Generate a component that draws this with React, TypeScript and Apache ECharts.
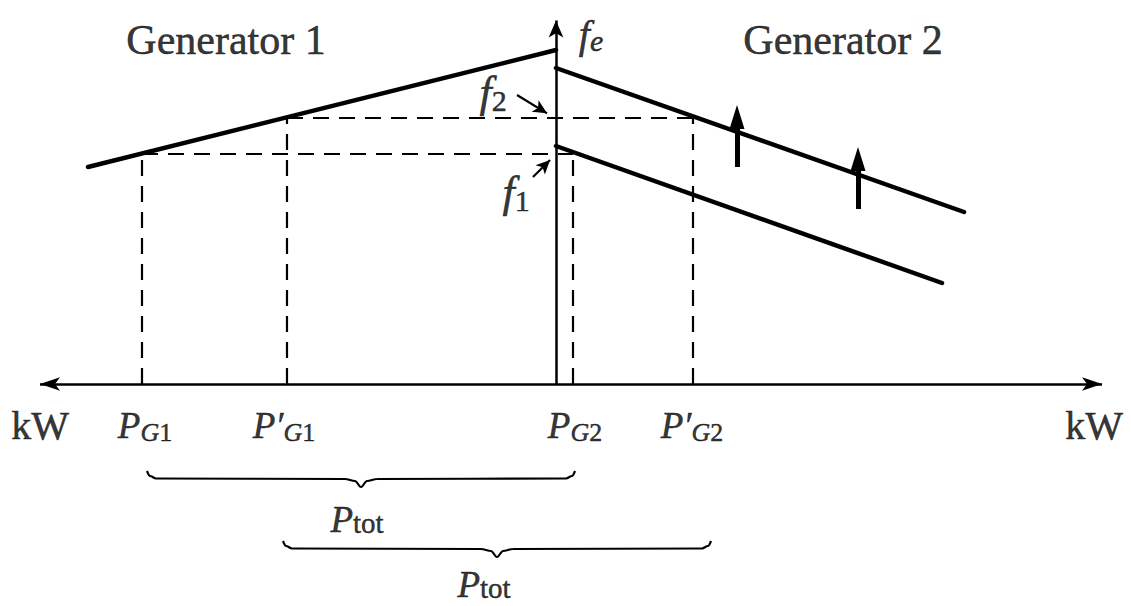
import React, { useEffect, useRef } from "react";
import * as echarts from "echarts";

// Coordinate frame: x = power (Generator 1 to the left of 0, Generator 2 to the right), y = frequency
const X_MIN = -556;
const X_MAX = 575;
const Y_MIN = -222;
const Y_MAX = 384;

// Frequency-power characteristics
const gen1Curve = [
  [-468, 217],
  [0, 334],
];
const gen2CurveBefore = [
  [0, 238],
  [386, 101],
];
const gen2CurveAfter = [
  [0, 316],
  [408, 172],
];

// Operating frequencies and powers
const f1 = 230;
const f2 = 266;
const pG1 = -414;
const pG1New = -269;
const pG2 = 17;
const pG2New = 137;

// Axes extents
const axisXLeftTip = -526;
const axisXRightTip = 556;
const axisYTip = 372;

// Upward shift arrows: [x, base, tip]
const shiftArrows = [
  [181, 217, 279],
  [302, 175, 237],
];

// Pointer arrows for f2 / f1 labels: [fromX, fromY, tipX, tipY]
const f2Pointer = [-39, 289, -3, 267];
const f1Pointer = [-23, 207, -1, 229];

// Braces under the power axis
const brace1 = [
  [-409, -87], [-406, -92], [-400, -94.5], [-211, -95], [-201, -97], [-195, -103],
  [-189, -97], [-179, -95], [10, -94.5], [16, -92], [19, -87],
];
const brace2 = [
  [-273, -157], [-270, -162], [-264, -164.5], [-75, -165], [-65, -167], [-59, -173],
  [-53, -167], [-43, -165], [146, -164.5], [152, -162], [155, -157],
];

// Text labels
const labelItems = [
  { pos: [-330, 344], text: "{g|Generator 1}" },
  { pos: [287, 344], text: "{g|Generator 2}" },
  { pos: [35, 350], text: "{fe|f}{fes|e}" },
  { pos: [-63, 292], text: "{f|f}{fn|2}" },
  { pos: [-40, 192], text: "{f|f}{fn|1}" },
  { pos: [-516, -41], text: "{k|kW}" },
  { pos: [538, -41], text: "{k|kW}" },
  { pos: [-411, -41], text: "{p|P}{sg|G}{sn|1}" },
  { pos: [-272, -41], text: "{p|P\u2032}{sg|G}{sn|1}" },
  { pos: [19, -41], text: "{p|P}{sg|G}{sn|2}" },
  { pos: [136, -41], text: "{p|P\u2032}{sg|G}{sn|2}" },
  { pos: [-199, -135], text: "{pt|P}{t|tot}" },
  { pos: [-72, -200], text: "{pt|P}{t|tot}" },
];

const SERIF = "'Liberation Serif', 'Times New Roman', serif";

function headCenter(fx: number, fy: number, tx: number, ty: number, len: number) {
  const dx = tx - fx;
  const dy = ty - fy;
  const d = Math.sqrt(dx * dx + dy * dy) || 1;
  return [tx - (dx / d) * (len / 2), ty - (dy / d) * (len / 2)];
}

function buildOption() {
  const solid = (data: number[][]) => ({
    type: "line",
    data,
    symbol: "none",
    silent: true,
    lineStyle: { color: "#000", width: 4.5, cap: "round" },
  });
  const dashedSegs = [
    [[pG1, 0], [pG1, f1]],
    [[pG1New, 0], [pG1New, f2]],
    [[pG2, 0], [pG2, f1]],
    [[pG2New, 0], [pG2New, f2]],
    [[pG1, f1], [pG2, f1]],
    [[pG1New, f2], [pG2New, f2]],
  ];
  const dashed = dashedSegs.map((d) => ({
    type: "line",
    data: d,
    symbol: "none",
    silent: true,
    lineStyle: { color: "#000", width: 2.2, type: [16, 10] },
  }));

  const braces = [brace1, brace2].map((d) => ({
    type: "line",
    data: d,
    symbol: "none",
    smooth: 0.35,
    smoothMonotone: "x",
    silent: true,
    lineStyle: { color: "#000", width: 2.2 },
  }));

  const axHead = 20;
  const yHead = 17;
  const axes = {
    type: "scatter",
    data: [],
    silent: true,
    markLine: {
      silent: true,
      animation: false,
      label: { show: false },
      emphasis: { disabled: true },
      lineStyle: { color: "#000", width: 2.5, type: "solid" },
      data: [
        [
          { coord: [axisXLeftTip + axHead / 2, 0], symbol: "arrow", symbolSize: [10, axHead] },
          { coord: [axisXRightTip - axHead / 2, 0], symbol: "arrow", symbolSize: [10, axHead] },
        ],
        [
          { coord: [0, 0], symbol: "none" },
          { coord: [0, axisYTip - yHead / 2], symbol: "arrow", symbolSize: [11, yHead] },
        ],
      ],
    },
  };

  const upHead = 24;
  const upArrows = {
    type: "scatter",
    data: [],
    silent: true,
    markLine: {
      silent: true,
      animation: false,
      label: { show: false },
      emphasis: { disabled: true },
      lineStyle: { color: "#000", width: 5, type: "solid" },
      data: shiftArrows.map(([x, b, t]) => [
        { coord: [x, b], symbol: "none" },
        { coord: [x, t - upHead / 2], symbol: "triangle", symbolSize: [15, upHead] },
      ]),
    },
  };

  const ptrHead = 14;
  const c2 = headCenter(f2Pointer[0], f2Pointer[1], f2Pointer[2], f2Pointer[3], ptrHead);
  const c1 = headCenter(f1Pointer[0], f1Pointer[1], f1Pointer[2], f1Pointer[3], ptrHead);
  const pointerCurved = {
    type: "scatter",
    data: [],
    silent: true,
    markLine: {
      silent: true,
      animation: false,
      label: { show: false },
      emphasis: { disabled: true },
      lineStyle: { color: "#000", width: 2.2, type: "solid", curveness: 0.15 },
      data: [
        [
          { coord: [f2Pointer[0], f2Pointer[1]], symbol: "none" },
          { coord: c2, symbol: "arrow", symbolSize: [10, ptrHead] },
        ],
      ],
    },
  };
  const pointerStraight = {
    type: "scatter",
    data: [],
    silent: true,
    markLine: {
      silent: true,
      animation: false,
      label: { show: false },
      emphasis: { disabled: true },
      lineStyle: { color: "#000", width: 2.2, type: "solid" },
      data: [
        [
          { coord: [f1Pointer[0], f1Pointer[1]], symbol: "none" },
          { coord: c1, symbol: "arrow", symbolSize: [10, ptrHead] },
        ],
      ],
    },
  };

  const base = { fontFamily: SERIF, color: "#000", textBorderColor: "#000", textBorderWidth: 0.5 };
  const rich: any = {
    g: { ...base, fontSize: 42, lineHeight: 46 },
    k: { ...base, fontSize: 40, lineHeight: 44 },
    fe: { ...base, fontStyle: "italic", fontSize: 40, lineHeight: 42 },
    fes: { ...base, fontStyle: "italic", fontSize: 30, lineHeight: 22, verticalAlign: "bottom" },
    f: { ...base, fontStyle: "italic", fontSize: 44, lineHeight: 46 },
    fn: { ...base, fontSize: 30, lineHeight: 20, verticalAlign: "bottom" },
    p: { ...base, fontStyle: "italic", fontSize: 37, lineHeight: 40 },
    pt: { ...base, fontStyle: "italic", fontSize: 37, lineHeight: 36 },
    sg: { ...base, fontStyle: "italic", fontSize: 26, lineHeight: 18, verticalAlign: "bottom" },
    sn: { ...base, fontSize: 26, lineHeight: 18, verticalAlign: "bottom" },
    t: { ...base, fontSize: 29, lineHeight: 16, verticalAlign: "bottom" },
  };

  const labels = {
    type: "scatter",
    silent: true,
    symbolSize: 0,
    data: labelItems.map((l) => ({
      value: l.pos,
      label: { show: true, position: "inside", color: "#000", formatter: l.text, rich },
    })),
  };

  return {
    animation: false,
    backgroundColor: "#fff",
    grid: { left: 0, right: 0, top: 0, bottom: 0, containLabel: false },
    xAxis: { type: "value", min: X_MIN, max: X_MAX, show: false },
    yAxis: { type: "value", min: Y_MIN, max: Y_MAX, show: false },
    series: [
      ...dashed,
      solid(gen1Curve),
      solid(gen2CurveBefore),
      solid(gen2CurveAfter),
      ...braces,
      axes,
      upArrows,
      pointerCurved,
      pointerStraight,
      labels,
    ],
  };
}

export default function App() {
  const ref = useRef<HTMLDivElement | null>(null);
  useEffect(() => {
    if (!ref.current) return;
    const chart = echarts.init(ref.current, undefined, { renderer: "svg" });
    chart.setOption(buildOption() as any);
    return () => chart.dispose();
  }, []);
  return (
    <div
      ref={ref}
      style={{ position: "absolute", left: 0, top: 0, width: 1131, height: 606, background: "#fff" }}
    />
  );
}
